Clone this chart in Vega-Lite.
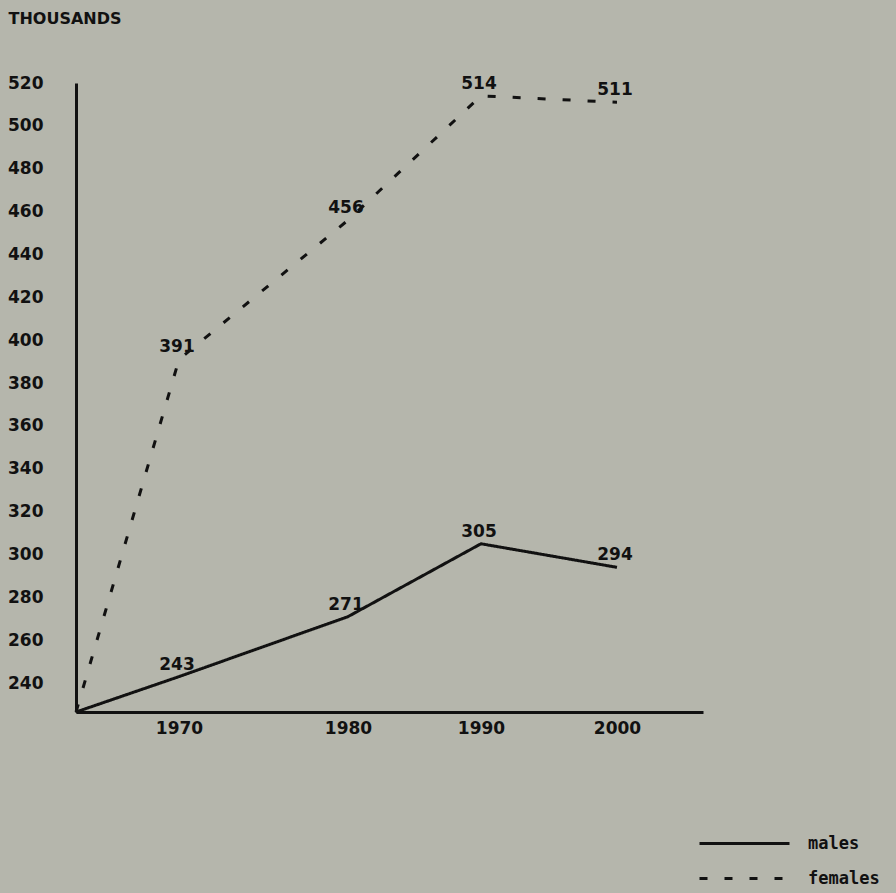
{
  "$schema": "https://vega.github.io/schema/vega-lite/v6.json",
  "autosize": "none",
  "width": 627,
  "height": 629,
  "padding": {"left": 76, "top": 83, "right": 193, "bottom": 181},
  "background": "#b5b6ac",
  "config": {
    "view": {"stroke": null},
    "font": "DejaVu Sans"
  },
  "data": {
    "values": [
      {"year": 1960, "value": 226.5, "series": "males", "labelled": false},
      {"year": 1970, "value": 243, "series": "males", "labelled": true},
      {"year": 1980, "value": 271, "series": "males", "labelled": true},
      {"year": 1990, "value": 305, "series": "males", "labelled": true},
      {"year": 2000, "value": 294, "series": "males", "labelled": true},
      {"year": 1960, "value": 226.5, "series": "females", "labelled": false},
      {"year": 1970, "value": 391, "series": "females", "labelled": true},
      {"year": 1980, "value": 456, "series": "females", "labelled": true},
      {"year": 1990, "value": 514, "series": "females", "labelled": true},
      {"year": 2000, "value": 511, "series": "females", "labelled": true}
    ]
  },
  "encoding": {
    "x": {
      "field": "year", "type": "quantitative",
      "scale": {"domain": [1960, 1970, 1980, 1990, 2000, 2005], "range": [0, 103, 272, 405, 541, 627], "nice": false, "zero": false},
      "axis": {
        "values": [1970, 1980, 1990, 2000], "format": "d", "title": null,
        "grid": false, "domainColor": "#111", "domainWidth": 3, "tickSize": 0,
        "labelPadding": 8, "labelFont": "DejaVu Sans", "labelFontWeight": "bold",
        "labelFontSize": 17, "labelColor": "#111"
      }
    },
    "y": {
      "field": "value", "type": "quantitative",
      "scale": {"domain": [226.5, 520], "nice": false, "zero": false},
      "axis": {
        "values": [240, 260, 280, 300, 320, 340, 360, 380, 400, 420, 440, 460, 480, 500, 520],
        "title": "THOUSANDS", "titleAngle": 0, "titleAlign": "left", "titleBaseline": "middle",
        "titleX": -68, "titleY": -65, "titleFont": "DejaVu Sans", "titleFontWeight": "bold",
        "titleFontSize": 16, "titleColor": "#111",
        "grid": false, "domainColor": "#111", "domainWidth": 3, "tickSize": 0,
        "labelPadding": 33, "labelFont": "DejaVu Sans", "labelFontWeight": "bold",
        "labelFontSize": 17, "labelColor": "#111"
      }
    }
  },
  "layer": [
    {
      "mark": {"type": "line", "color": "#111", "strokeWidth": 3},
      "encoding": {
        "strokeDash": {
          "field": "series", "type": "nominal",
          "scale": {"domain": ["males", "females"], "range": [[1, 0], [8, 17]]},
          "legend": {
            "title": null, "orient": "none", "legendX": 658, "legendY": 750,
            "symbolType": "M-5,0H5", "symbolSize": 324, "symbolStrokeWidth": 3,
            "symbolStrokeColor": "#111", "symbolFillColor": null,
            "labelFont": "DejaVu Sans Mono", "labelFontWeight": "bold", "labelFontSize": 17,
            "labelColor": "#111", "labelOffset": 53, "rowPadding": 16
          }
        }
      }
    },
    {
      "transform": [{"filter": "datum.labelled"}],
      "mark": {"type": "text", "font": "DejaVu Sans", "fontWeight": "bold", "fontSize": 17, "color": "#111", "dy": -12, "dx": -2, "align": "center", "baseline": "middle"},
      "encoding": {"text": {"field": "value", "type": "quantitative", "format": "d"}}
    }
  ]
}
